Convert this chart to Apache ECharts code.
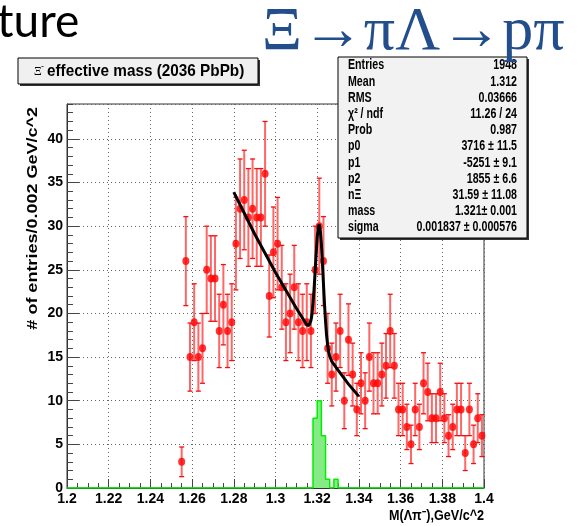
<!DOCTYPE html>
<html>
<head>
<meta charset="utf-8">
<script src="https://cdn.jsdelivr.net/npm/echarts@6/dist/echarts.min.js"></script>
<style>
html, body { margin: 0; padding: 0; background: #fff; }
#chart { width: 588px; height: 526px; }
</style>
</head>
<body>
<div id="chart"></div>
<script>
// M(Lambda pi-) histogram, bins of 0.002 GeV/c^2, first filled bin centred at 1.255
const firstBin = 1.255;
const binWidth = 0.002;
const counts = [3, 26, 15, 19, 15, 16, 25, 24, 24, 18, 21, 18, 19, 28, 32, 33, 31, 32, 31, 31, 36,
  22, 27, 28, 23, 19, 20, 23, 19, 18, 19, 18, 25, 30, 26, 16, 13, 15, 18, 10, 17, 13, 9, 12, 10,
  15, 12, 12, 13, 14, 18, 14, 9, 9, 7, 5, 9, 7, 12, 11, 8, 8, 11, 8, 6, 7, 9, 9, 4, 9, 5, 8, 6];
const errors = [1.7, 5.1, 3.9, 4.4, 3.9, 4.0, 5.0, 4.9, 4.9, 4.2, 4.6, 4.2, 4.4, 5.3, 5.7, 5.7, 5.6, 5.7, 5.6, 5.6, 6.0,
  4.7, 5.2, 5.3, 4.8, 4.4, 4.5, 4.8, 4.4, 4.2, 4.4, 4.2, 5.0, 5.5, 5.1, 4.0, 3.6, 3.9, 4.2, 3.2, 4.1, 3.6, 3.0, 3.5, 3.2,
  3.9, 3.5, 3.5, 3.6, 3.7, 4.2, 3.7, 3.0, 3.0, 2.6, 2.2, 3.0, 2.6, 3.5, 3.3, 2.8, 2.8, 3.3, 2.8, 2.4, 2.6, 3.0, 3.0, 2.0, 3.0, 2.2, 2.8, 2.4];

// green (MC) histogram: bin low edges and contents
const mcEdges = [1.2, 1.318, 1.32, 1.322, 1.324, 1.326, 1.328, 1.33, 1.4];
const mcCounts = [0, 8, 10, 6, 1, 0, 1, 0, 0];

// fitted curve
const fitX = [1.28, 1.29, 1.30, 1.31, 1.315, 1.316, 1.3165, 1.317, 1.3175, 1.318, 1.3185, 1.319, 1.3195, 1.32,
  1.3205, 1.321, 1.3215, 1.322, 1.3225, 1.323, 1.3235, 1.324, 1.3245, 1.325, 1.3255, 1.326, 1.327, 1.33, 1.335, 1.34];
const fitY = [33.9, 29.1, 24.7, 20.6, 18.7, 18.6, 18.8, 19.2, 19.9, 21.2, 22.8, 24.8, 26.8, 28.7,
  29.9, 30.2, 29.5, 28.0, 25.8, 23.4, 21.1, 19.1, 17.5, 16.4, 15.6, 15.1, 14.5, 13.5, 11.9, 10.5];

const statLabels = ["Entries", "Mean", "RMS", "\u03c7\u00b2 / ndf", "Prob", "p0", "p1", "p2", "n\u039e", "mass", "sigma"];
const statValues = ["1948", "1.312", "0.03666", "11.26 / 24", "0.987", "3716 \u00b1 11.5", "-5251 \u00b1 9.1",
  "1855 \u00b1 6.6", "31.59 \u00b1 11.08", "1.321\u00b1 0.001", "0.001837 \u00b1 0.000576"];

const sans = "'Liberation Sans', Arial, sans-serif";

const points = counts.map((c, i) => [+(firstBin + i * binWidth).toFixed(3), c]);
const bars = counts.map((c, i) => [points[i][0], c - errors[i], c + errors[i]]);
const mc = mcEdges.map((x, i) => [x, mcCounts[i]]);
const fit = fitX.map((x, i) => [x, fitY[i]]);

function renderErrorBar(params, api) {
  const x = api.value(0);
  const top = api.coord([x, api.value(2)]);
  const bot = api.coord([x, api.value(1)]);
  const cap = 2.5;
  return {
    type: "group",
    children: [
      {type: "line", shape: {x1: top[0], y1: top[1], x2: bot[0], y2: bot[1]},
        style: {stroke: "#ff6666", lineWidth: 2}},
      {type: "line", shape: {x1: top[0] - cap, y1: top[1], x2: top[0] + cap, y2: top[1]},
        style: {stroke: "#ee1111", lineWidth: 1.3}},
      {type: "line", shape: {x1: bot[0] - cap, y1: bot[1], x2: bot[0] + cap, y2: bot[1]},
        style: {stroke: "#ee1111", lineWidth: 1.3}}
    ]
  };
}

function label(text, x, y, font, align, sx, extra) {
  return Object.assign({type: "text", x: x, y: y, z: 20, scaleX: sx || 1,
    style: {text: text, font: font, fill: "#000", align: align, verticalAlign: "middle",
      textAlign: align, textVerticalAlign: "middle"}}, extra || {});
}

const statsItems = [];
statLabels.forEach((s, i) => {
  const y = 65.5 + i * 16.2;
  statsItems.push(label(s, 348, y, "bold 14px " + sans, "left", 0.76));
  statsItems.push(label(statValues[i], 517, y, "bold 14px " + sans, "right", 0.76));
});

const chart = echarts.init(document.getElementById("chart"), null, {renderer: "canvas"});
const options = {
  animation: false,
  backgroundColor: "#fff",
  grid: {left: 67, top: 104, width: 417, height: 384, show: true, borderColor: "#333", borderWidth: 1},
  xAxis: [{
    type: "value", min: 1.2, max: 1.4, interval: 0.02,
    axisLine: {show: true, lineStyle: {color: "#333"}},
    axisTick: {inside: true, length: 9, lineStyle: {color: "#444"}},
    axisLabel: {margin: 4, color: "#000", fontFamily: sans, fontWeight: "bold", fontSize: 14,
      formatter: v => String(+(+v).toFixed(2))},
    splitLine: {show: true, lineStyle: {color: "#666", type: [1, 3]}}
  }, {
    type: "value", min: 1.2, max: 1.4, interval: 0.005, position: "bottom",
    axisLine: {show: false}, axisLabel: {show: false}, splitLine: {show: false},
    axisTick: {inside: true, length: 5, lineStyle: {color: "#444"}}
  }],
  yAxis: [{
    type: "value", min: 0, max: 44, interval: 5,
    axisLine: {show: true, lineStyle: {color: "#333"}},
    axisTick: {inside: true, length: 12, lineStyle: {color: "#444"}},
    axisLabel: {margin: 4, color: "#000", fontFamily: sans, fontWeight: "bold", fontSize: 14, showMaxLabel: false},
    splitLine: {show: true, lineStyle: {color: "#666", type: [1, 3]}}
  }, {
    type: "value", min: 0, max: 44, interval: 1, position: "left",
    axisLine: {show: false}, axisLabel: {show: false}, splitLine: {show: false},
    axisTick: {inside: true, length: 6, lineStyle: {color: "#444"}}
  }],
  series: [
    {
      type: "line", data: mc, step: "end", symbol: "none", z: 1,
      lineStyle: {color: "#00ee00", width: 1.5},
      areaStyle: {color: "#86ea86", opacity: 1}
    },
    {
      type: "custom", data: bars, renderItem: renderErrorBar, z: 2,
      encode: {x: 0, y: [1, 2]}
    },
    {
      type: "scatter", data: points, symbol: "circle", symbolSize: [7, 8], z: 3,
      itemStyle: {color: "#ff0000"}
    },
    {
      type: "line", data: fit, symbol: "none", z: 4,
      lineStyle: {color: "#000", width: 3}
    }
  ],
  graphic: [
    label("ture", -3, 22, "46px Lato, 'Open Sans', sans-serif", "left", 1, {z: 30}),
    {type: "text", x: 262, y: 33, z: 30,
      style: {text: "\u039e\u2192\u03c0\u039b\u2192p\u03c0", font: "62px 'Liberation Serif', 'DejaVu Serif', serif",
        fill: "#234e8c", align: "left", verticalAlign: "middle", textAlign: "left", textVerticalAlign: "middle"}},
    // title box
    {type: "rect", z: 10, shape: {x: 20, y: 60, width: 240, height: 26}, style: {fill: "#333"}},
    {type: "rect", z: 11, shape: {x: 18, y: 58, width: 240, height: 26},
      style: {fill: "#f0f0f0", stroke: "#000", lineWidth: 1}},
    label("\u039e", 34, 72, "12px 'Liberation Serif', serif", "left"),
    label("-", 41, 67, "9px " + sans, "left"),
    label("effective mass (2036 PbPb)", 47, 71, "bold 17px " + sans, "left", 0.9),
    // stats box
    {type: "rect", z: 18, shape: {x: 340, y: 59, width: 189, height: 181}, style: {fill: "#333"}},
    {type: "rect", z: 19, shape: {x: 338, y: 57, width: 189, height: 181},
      style: {fill: "#f2f2f2", stroke: "#000", lineWidth: 1}},
    ...statsItems,
    // axis titles
    label("# of entries/0.002 GeV/c^2", 33, 107, "bold 15px " + sans, "right", 1.2, {rotation: Math.PI / 2}),
    label("M(\u039b\u03c0\u207b),GeV/c^2", 484, 516, "bold 14px " + sans, "right", 0.9)
  ]
};
chart.setOption(options);
</script>
</body>
</html>
